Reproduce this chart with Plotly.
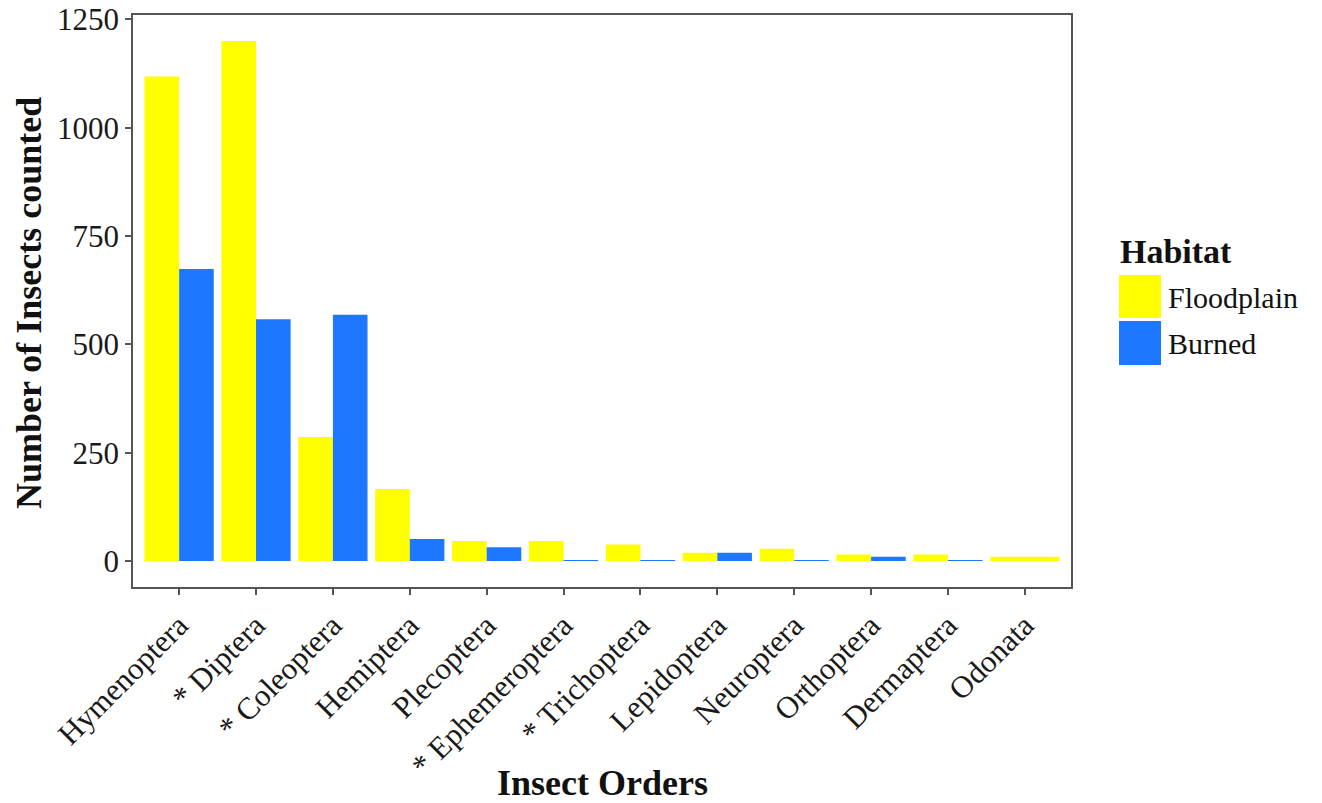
import plotly.graph_objects as go

# Insect counts per order in each habitat
orders = ["Hymenoptera", "* Diptera", "* Coleoptera", "Hemiptera", "Plecoptera",
          "* Ephemeroptera", "* Trichoptera", "Lepidoptera", "Neuroptera",
          "Orthoptera", "Dermaptera", "Odonata"]
floodplain = [1118, 1200, 286, 166, 46, 46, 38, 19, 28, 15, 15, 10]
burned = [674, 558, 568, 51, 32, 2, 2, 19, 2, 10, 2, None]

y_ticks = [0, 250, 500, 750, 1000, 1250]

YELLOW = "#FFFF00"
BLUE = "#1E78FF"
FONT = "Liberation Serif, Times New Roman, serif"

# dodge layout: half-width bars side by side; a lone bar fills the full slot
fp_width = [0.9 if b is None else 0.45 for b in burned]
fp_offset = [-0.45] * len(orders)

fig = go.Figure()
fig.add_trace(go.Bar(x=orders, y=floodplain, name="Floodplain",
                     marker=dict(color=YELLOW, line=dict(width=0)),
                     width=fp_width, offset=fp_offset))
fig.add_trace(go.Bar(x=orders, y=burned, name="Burned",
                     marker=dict(color=BLUE, line=dict(width=0)),
                     width=0.45, offset=0))

# plot panel in pixels
L, R, T, B = 133, 1071, 15, 587
W, H = 1322, 803


def px(x):
    return (x - L) / (R - L)


def py(y):
    return (B - y) / (B - T)


fig.update_layout(
    width=W, height=H,
    margin=dict(l=L, r=W - R, t=T, b=H - B, autoexpand=False),
    barmode="overlay",
    showlegend=False,
    plot_bgcolor="white",
    paper_bgcolor="white",
    font=dict(family=FONT, color="#1a1a1a"),
)

fig.update_xaxes(
    type="category", range=[-0.6, 11.6], automargin=False,
    showgrid=False, zeroline=False,
    showline=True, mirror=True, linecolor="#555555", linewidth=1.5,
    ticks="outside", ticklen=6, tickcolor="#555555", tickwidth=1.5,
    tickangle=-45, tickfont=dict(family=FONT, size=31, color="#1a1a1a"),
)
fig.update_yaxes(
    range=[-60, 1260], tickvals=y_ticks, automargin=False,
    showgrid=False, zeroline=False,
    showline=True, mirror=True, linecolor="#555555", linewidth=1.5,
    ticks="outside", ticklen=6, tickcolor="#555555", tickwidth=1.5,
    tickfont=dict(family=FONT, size=31, color="#1a1a1a"),
)

annotations = [
    dict(text="<b>Insect Orders</b>", xref="paper", yref="paper",
         x=px(602), y=py(783), xanchor="center", yanchor="middle",
         showarrow=False, font=dict(family=FONT, size=36, color="#111")),
    dict(text="<b>Number of Insects counted</b>", xref="paper", yref="paper",
         x=px(29), y=py(303), xanchor="center", yanchor="middle",
         textangle=-90, showarrow=False,
         font=dict(family=FONT, size=36, color="#111")),
    dict(text="<b>Habitat</b>", xref="paper", yref="paper",
         x=px(1118), y=py(251), xanchor="left", yanchor="middle",
         showarrow=False, font=dict(family=FONT, size=34, color="#111")),
    dict(text="Floodplain", xref="paper", yref="paper",
         x=px(1166), y=py(297), xanchor="left", yanchor="middle",
         showarrow=False, font=dict(family=FONT, size=30, color="#111")),
    dict(text="Burned", xref="paper", yref="paper",
         x=px(1166), y=py(343), xanchor="left", yanchor="middle",
         showarrow=False, font=dict(family=FONT, size=30, color="#111")),
]

shapes = [
    dict(type="rect", xref="paper", yref="paper",
         x0=px(1119), x1=px(1161), y0=py(318), y1=py(275),
         fillcolor=YELLOW, line=dict(width=0)),
    dict(type="rect", xref="paper", yref="paper",
         x0=px(1119), x1=px(1161), y0=py(365), y1=py(321),
         fillcolor=BLUE, line=dict(width=0)),
]

fig.update_layout(annotations=annotations, shapes=shapes)

fig.write_html("out.html")
